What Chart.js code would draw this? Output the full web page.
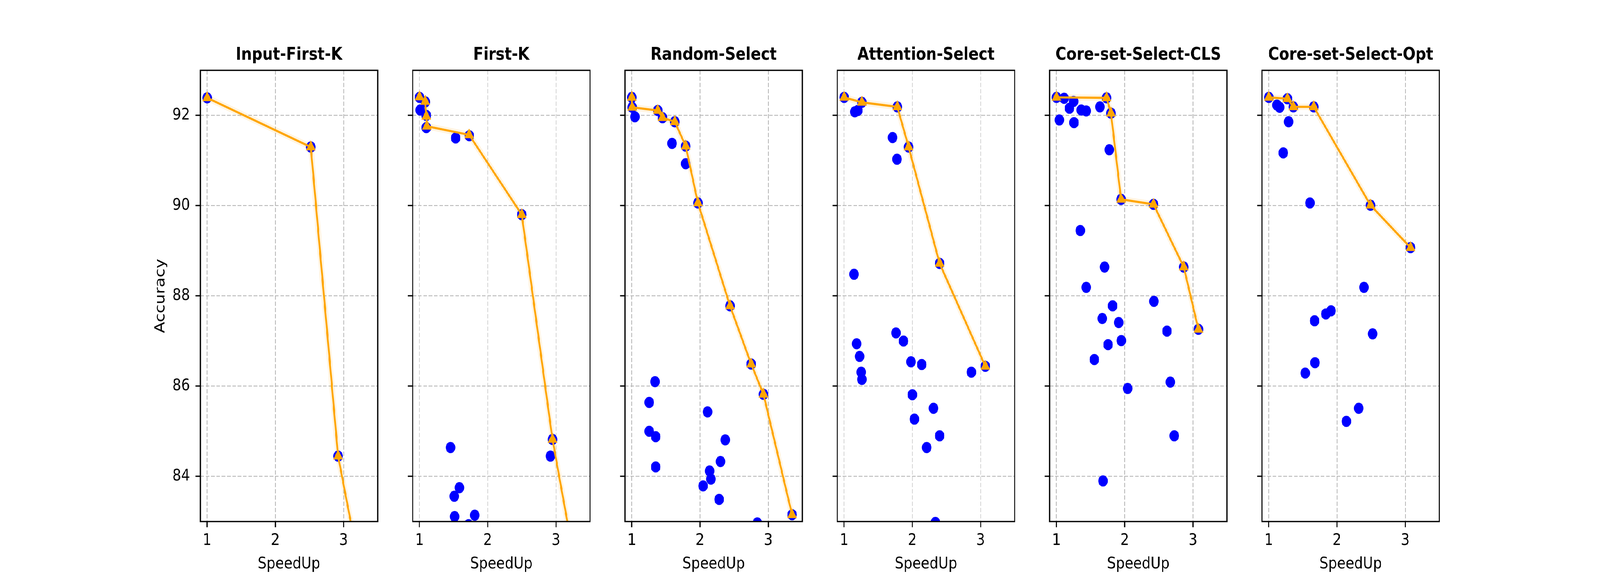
<!DOCTYPE html>
<html>
<head>
<meta charset="utf-8">
<script src="https://cdn.jsdelivr.net/npm/chart.js@4.4.1/dist/chart.umd.min.js"></script>
<style>
  html, body { margin: 0; padding: 0; background: #fff; overflow: hidden; }
  #figure { position: absolute; left: 0; top: 0; width: 4800px; height: 1500px; background: #fff; transform-origin: 0 0; }
  #figure canvas { position: absolute; }
</style>
</head>
<body>
<div id="figure"></div>
<script>
// panel titles and shared ticks
const panelTitles = ['Input-First-K', 'First-K', 'Random-Select', 'Attention-Select', 'Core-set-Select-CLS', 'Core-set-Select-Opt'];
const xTicks = [1, 2, 3];
const yTicks = [84, 86, 88, 90, 92];

// Input-First-K
const inputFirstKX = [1.0, 2.52, 2.92, 3.3];
const inputFirstKY = [92.39, 91.30, 84.45, 81.47];
const inputFirstKFrontX = [1.0, 2.52, 2.92, 3.3];
const inputFirstKFrontY = [92.39, 91.30, 84.45, 81.47];

// First-K
const firstKX = [1.0, 1.01, 1.085, 1.10, 1.10, 1.53, 1.73, 2.50, 2.95, 2.92, 1.455, 1.585, 1.51, 1.515, 1.81, 1.72, 3.35];
const firstKY = [92.40, 92.12, 92.30, 92.0, 91.73, 91.50, 91.55, 89.80, 84.82, 84.45, 84.64, 83.75, 83.56, 83.11, 83.14, 82.93, 81.48];
const firstKFrontX = [1.0, 1.084, 1.10, 1.108, 1.728, 2.50, 2.95, 3.35];
const firstKFrontY = [92.41, 92.31, 91.98, 91.76, 91.57, 89.80, 84.82, 81.48];

// Random-Select
const randomX = [1.0, 1.005, 1.38, 1.45, 1.63, 1.79, 1.97, 2.44, 2.75, 2.93, 3.35,
  1.045, 1.59, 1.79, 1.34, 1.255, 1.255, 1.35, 1.35, 2.11, 2.37, 2.30, 2.14, 2.16, 2.045, 2.28, 2.84];
const randomY = [92.40, 92.18, 92.11, 91.95, 91.86, 91.32, 90.06, 87.78, 86.49, 85.82, 83.15,
  91.97, 91.38, 90.93, 86.10, 85.64, 85.00, 84.88, 84.21, 85.43, 84.81, 84.33, 84.12, 83.94, 83.79, 83.49, 82.97];
const randomFrontX = [1.0, 1.005, 1.38, 1.45, 1.63, 1.79, 1.97, 2.44, 2.75, 2.93, 3.35];
const randomFrontY = [92.40, 92.18, 92.11, 91.95, 91.86, 91.32, 90.06, 87.78, 86.49, 85.82, 83.15];

// Attention-Select
const attentionX = [1.0, 1.26, 1.78, 1.945, 2.40, 3.07,
  1.156, 1.20, 1.71, 1.775, 1.145, 1.76, 1.87, 1.183, 1.226, 1.25, 1.26, 1.98, 2.137, 2.865, 2.00, 2.31, 2.03, 2.40, 2.21, 2.338];
const attentionY = [92.40, 92.29, 92.19, 91.30, 88.72, 86.44,
  92.08, 92.11, 91.51, 91.03, 88.48, 87.18, 87.0, 86.94, 86.66, 86.31, 86.15, 86.54, 86.48, 86.31, 85.81, 85.51, 85.27, 84.90, 84.64, 82.98];
const attentionFrontX = [1.0, 1.26, 1.78, 1.945, 2.40, 3.07];
const attentionFrontY = [92.40, 92.29, 92.19, 91.30, 88.72, 86.44];

// Core-set-Select-CLS
const coresetClsX = [1.0, 1.734, 1.799, 1.947, 2.423, 2.866, 3.081,
  1.112, 1.25, 1.19, 1.363, 1.436, 1.637, 1.042, 1.257, 1.774, 1.349, 1.705, 1.436, 1.823, 2.429, 1.671, 1.912, 2.62, 1.95, 1.756, 1.555, 2.043, 2.669, 2.727, 1.682];
const coresetClsY = [92.40, 92.39, 92.05, 90.14, 90.03, 88.64, 87.26,
  92.38, 92.31, 92.16, 92.12, 92.10, 92.19, 91.90, 91.84, 91.24, 89.45, 88.64, 88.19, 87.78, 87.88, 87.50, 87.41, 87.22, 87.01, 86.92, 86.59, 85.95, 86.09, 84.90, 83.90];
const coresetClsFrontX = [1.0, 1.734, 1.799, 1.947, 2.423, 2.866, 3.081];
const coresetClsFrontY = [92.40, 92.39, 92.05, 90.14, 90.03, 88.64, 87.26];

// Core-set-Select-Opt
const coresetOptX = [1.0, 1.273, 1.36, 1.659, 2.491, 3.078,
  1.119, 1.159, 1.29, 1.212, 1.603, 2.395, 1.912, 1.836, 1.671, 2.522, 1.677, 1.534, 2.318, 2.137];
const coresetOptY = [92.40, 92.37, 92.19, 92.19, 90.01, 89.07,
  92.23, 92.18, 91.86, 91.17, 90.06, 88.19, 87.67, 87.60, 87.45, 87.16, 86.52, 86.29, 85.51, 85.22];
const coresetOptFrontX = [1.0, 1.273, 1.36, 1.659, 2.491, 3.078];
const coresetOptFrontY = [92.40, 92.37, 92.19, 92.19, 90.01, 89.07];

const panels = [
  [inputFirstKX, inputFirstKY, inputFirstKFrontX, inputFirstKFrontY],
  [firstKX, firstKY, firstKFrontX, firstKFrontY],
  [randomX, randomY, randomFrontX, randomFrontY],
  [attentionX, attentionY, attentionFrontX, attentionFrontY],
  [coresetClsX, coresetClsY, coresetClsFrontX, coresetClsFrontY],
  [coresetOptX, coresetOptY, coresetOptFrontX, coresetOptFrontY]
];

// figure is laid out at 4800x1500 and then fitted to the window
const FIG_W = 4800;
const FIG_H = 1500;
const AX_LEFT = 601;
const AX_PITCH = 637;
const AX_WIDTH = 539;
const CANVAS_TOP = 80;
const CANVAS_HEIGHT = 1420;
const FONT = 'DejaVu Sans';

const fig = document.getElementById('figure');
fig.style.transform = 'scale(' + (window.innerWidth / FIG_W) + ',' + (window.innerHeight / FIG_H) + ')';

// full black box round each axes, like matplotlib spines
const framePlugin = {
    id: 'frame',
    afterDatasetsDraw(chart) {
        const { ctx, chartArea: a } = chart;
        ctx.save();
        ctx.strokeStyle = '#000';
        ctx.lineWidth = 3.3;
        ctx.strokeRect(a.left, a.top, a.right - a.left, a.bottom - a.top);
        ctx.restore();
    }
};

function toPoints(xs, ys) {
    return xs.map((x, k) => ({ x: x, y: ys[k] }));
}

function makePanel(i) {
    const [allX, allY, frontX, frontY] = panels[i];
    const first = i === 0;
    const yW = first ? 170 : 40;

    const canvas = document.createElement('canvas');
    canvas.width = yW + AX_WIDTH + 10;
    canvas.height = CANVAS_HEIGHT;
    canvas.style.left = (AX_LEFT + i * AX_PITCH - yW) + 'px';
    canvas.style.top = CANVAS_TOP + 'px';
    fig.appendChild(canvas);

    const gridOpts = { color: '#b8b8b8', lineWidth: 2.2, tickLength: 14.6, tickWidth: 3.3, tickColor: '#000' };

    new Chart(canvas.getContext('2d'), {
        type: 'scatter',
        data: {
            datasets: [
                {
                    // faint halo under the frontier
                    type: 'line',
                    data: toPoints(frontX, frontY),
                    borderColor: 'rgba(255, 165, 0, 0.12)',
                    borderWidth: 16,
                    pointRadius: 0,
                    fill: false,
                    order: 3,
                    clip: 0
                },
                {
                    data: toPoints(allX, allY),
                    backgroundColor: '#0000ff',
                    borderWidth: 0,
                    pointRadius: 14.3,
                    order: 2,
                    clip: 0
                },
                {
                    type: 'line',
                    data: toPoints(frontX, frontY),
                    borderColor: '#ffa500',
                    borderWidth: 5.5,
                    fill: false,
                    pointStyle: 'triangle',
                    pointRadius: 15,
                    pointBackgroundColor: '#ffa500',
                    pointBorderColor: '#ffa500',
                    pointBorderWidth: 2,
                    order: 1,
                    clip: 0
                }
            ]
        },
        options: {
            responsive: false,
            devicePixelRatio: 1,
            animation: false,
            events: [],
            layout: { padding: { left: 0, right: 10, top: 0, bottom: 0 } },
            plugins: {
                legend: { display: false },
                tooltip: { enabled: false },
                title: {
                    display: true,
                    text: panelTitles[i],
                    color: '#000',
                    fullSize: false,
                    font: { family: FONT, size: 44.5, weight: 'bold' },
                    padding: { top: 35.1, bottom: 11.5 }
                }
            },
            scales: {
                x: {
                    type: 'linear',
                    min: 0.9,
                    max: 3.5,
                    afterBuildTicks: s => { s.ticks = xTicks.map(v => ({ value: v })); },
                    afterFit: s => { s.height = 165; },
                    grid: gridOpts,
                    border: { display: false, dash: [11, 5] },
                    ticks: {
                        color: '#000',
                        font: { family: FONT, size: 41.67 },
                        padding: 9.9,
                        maxRotation: 0,
                        autoSkip: false,
                        callback: v => String(v)
                    },
                    title: {
                        display: true,
                        text: 'SpeedUp',
                        color: '#000',
                        font: { family: FONT, size: 41.67 },
                        padding: { top: 0, bottom: 30.5 }
                    }
                },
                y: {
                    type: 'linear',
                    min: 83,
                    max: 93,
                    afterBuildTicks: s => { s.ticks = yTicks.map(v => ({ value: v })); },
                    afterFit: s => { s.width = yW; },
                    grid: gridOpts,
                    border: { display: false, dash: [11, 5] },
                    ticks: {
                        display: first,
                        color: '#000',
                        font: { family: FONT, size: 41.67 },
                        padding: 16.4,
                        autoSkip: false,
                        callback: v => String(v)
                    },
                    title: {
                        display: first,
                        text: 'Accuracy',
                        color: '#000',
                        font: { family: FONT, size: 41.67 },
                        padding: { top: 26, bottom: 0 }
                    }
                }
            }
        },
        plugins: [framePlugin]
    });
}

for (let i = 0; i < panels.length; i++) {
    makePanel(i);
}
</script>
</body>
</html>
